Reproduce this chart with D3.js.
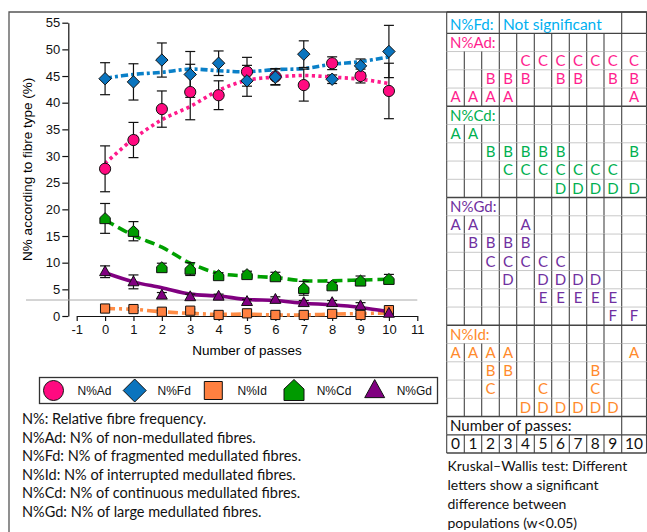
<!DOCTYPE html>
<html>
<head>
<meta charset="utf-8">
<script src="https://cdn.jsdelivr.net/npm/d3@7"></script>
<style>
  html, body { margin: 0; padding: 0; background: #fff; }
  svg { display: block; }
  .ax text { font-family: "Liberation Sans", Arial, sans-serif; font-size: 13px; fill: #111; }
  .ax path, .ax line { stroke: #111; stroke-width: 1.2; }
</style>
</head>
<body>
<svg id="fig" width="647" height="532"></svg>
<script>
// Number of passes (x positions)
const passes = [0, 1, 2, 3, 4, 5, 6, 7, 8, 9, 10];

// Mean relative fibre frequency (%) per number of passes
const adMean = [27.6, 33.0, 38.8, 42.0, 41.4, 45.8, 44.9, 43.3, 47.4, 45.0, 42.2];
const fdMean = [44.5, 43.9, 48.0, 45.3, 47.4, 44.1, 44.8, 49.1, 44.4, 46.9, 49.6];
const idMean = [1.4, 1.3, 0.8, 1.0, 0.2, 0.5, 0.2, 0.2, 0.4, 0.2, 1.1];
const cdMean = [18.3, 15.9, 9.1, 8.8, 7.6, 7.8, 7.4, 5.2, 5.7, 6.6, 6.9];
const gdMean = [8.3, 6.4, 3.9, 3.6, 3.7, 2.7, 3.1, 2.5, 2.5, 1.9, 0.5];

// Error (half-length of the error bars)
const adErr = [4.3, 3.3, 3.4, 5.2, 2.7, 2.7, 1.5, 3.0, 1.2, 1.3, 5.2];
const fdErr = [3.0, 3.4, 3.2, 4.3, 2.3, 2.9, 1.5, 2.5, 0.8, 1.3, 4.9];
const idErr = [0.3, 0.3, 0.3, 0.3, 0.2, 0.3, 0.2, 0.2, 0.3, 0.2, 0.3];
const cdErr = [2.8, 1.8, 0.8, 1.2, 0.5, 0.6, 0.8, 1.3, 0.6, 0.9, 0.9];
const gdErr = [1.1, 1.3, 0.5, 0.5, 0.4, 0.4, 0.5, 0.4, 0.4, 0.6, 0.3];

// Fitted trend curves evaluated at each number of passes
const adTrend = [28.6, 33.2, 36.8, 39.3, 42.3, 44.2, 44.8, 45.1, 44.8, 44.4, 43.6];
const fdTrend = [44.6, 45.3, 45.7, 46.3, 46.0, 45.8, 46.2, 46.4, 47.2, 47.7, 48.6];
const idTrend = [1.4, 1.25, 0.8, 0.5, 0.3, 0.35, 0.2, 0.2, 0.35, 0.45, 0.6];
const cdTrend = [18.0, 15.1, 12.9, 9.9, 8.0, 7.5, 7.2, 6.6, 6.6, 6.75, 6.9];
const gdTrend = [8.1, 6.4, 5.3, 4.1, 3.75, 3.1, 2.9, 2.4, 2.1, 1.6, 0.8];

// Reference level drawn as a thin grey line
const refLevel = 3;

// Axis ticks
const yTicks = [0, 5, 10, 15, 20, 25, 30, 35, 40, 45, 50, 55];
const xTicks = [-1, 0, 1, 2, 3, 4, 5, 6, 7, 8, 9, 10, 11];

// Legend / footnote text
const seriesNames = ["N%Ad", "N%Fd", "N%Id", "N%Cd", "N%Gd"];
const notes = [
  "N%: Relative fibre frequency.",
  "N%Ad: N% of non-medullated fibres.",
  "N%Fd: N% of fragmented medullated fibres.",
  "N%Id: N% of interrupted medullated fibres.",
  "N%Cd: N% of continuous medullated fibres.",
  "N%Gd: N% of large medullated fibres."
];

// Kruskal–Wallis letter groups per number of passes
const adLetters = ["A", "A", "AB", "AB", "BC", "C", "BC", "BC", "C", "BC", "ABC"];
const cdLetters = ["A", "A", "B", "BC", "BC", "BC", "BCD", "CD", "CD", "CD", "BD"];
const gdLetters = ["A", "AB", "BC", "BCD", "ABC", "CDE", "CDE", "DE", "DE", "EF", "F"];
const idLetters = ["A", "A", "ABC", "AB", "D", "CD", "D", "D", "BCD", "D", "A"];
const kwNote = [
  "Kruskal\u2013Wallis test: Different",
  "letters show a significant",
  "difference between",
  "populations (w<0.05)"
];

const svg = d3.select("#fig");

// ---------- chart ----------
const x = d3.scaleLinear().domain([-1, 11]).range([76.7, 417.3]);
const y = d3.scaleLinear().domain([0, 55]).range([316, 22.7]);

// panel frame
svg.append("path")
  .attr("d", "M9,532 L9,12 L447,12")
  .attr("fill", "none").attr("stroke", "#555").attr("stroke-width", 1.3);

// y axis
svg.append("g").attr("class", "ax")
  .attr("transform", "translate(68.3,0)")
  .call(d3.axisLeft(y).tickValues(yTicks).tickFormat(d => String(d))
    .tickSize(6).tickSizeOuter(0).tickPadding(2));

// x axis
svg.append("g").attr("class", "ax")
  .attr("transform", `translate(0,${y(0)})`)
  .call(d3.axisBottom(x).tickValues(xTicks).tickFormat(d => String(d))
    .tickSize(5).tickSizeOuter(0).tickPadding(4));

svg.append("text")
  .attr("x", (x(-1) + x(11)) / 2).attr("y", 355)
  .attr("text-anchor", "middle")
  .style("font-family", "Liberation Sans, Arial, sans-serif").style("font-size", "13.5px")
  .text("Number of passes");

svg.append("text")
  .attr("transform", `translate(32,${(y(0) + y(55)) / 2}) rotate(-90)`)
  .attr("text-anchor", "middle")
  .style("font-family", "Liberation Sans, Arial, sans-serif").style("font-size", "13.5px")
  .text("N% according to fibre type (%)");

// grey reference line
svg.append("line")
  .attr("x1", 26).attr("x2", x(11))
  .attr("y1", y(refLevel)).attr("y2", y(refLevel))
  .attr("stroke", "#aaa").attr("stroke-width", 1);

// marker shapes
const shapes = {
  circle: s => `M${s},0 A${s},${s} 0 1,1 ${-s},0 A${s},${s} 0 1,1 ${s},0 Z`,
  diamond: s => `M0,${-s} L${s},0 L0,${s} L${-s},0 Z`,
  square: s => `M${-s},${-s} L${s},${-s} L${s},${s} L${-s},${s} Z`,
  house: s => `M${-s},${s} L${-s},${-0.15 * s} L0,${-s * 1.1} L${s},${-0.15 * s} L${s},${s} Z`,
  triangle: s => `M0,${-s * 1.15} L${s * 1.05},${s * 0.75} L${-s * 1.05},${s * 0.75} Z`
};

const series = [
  { name: "N%Ad", mean: adMean, err: adErr, trend: adTrend, fill: "#FF0A80", line: "#FF1A8C", dash: "3.2 3.4", shape: "circle", size: 5.6, lsize: 10 },
  { name: "N%Fd", mean: fdMean, err: fdErr, trend: fdTrend, fill: "#0A74BE", line: "#0A80C8", dash: "7 3 3 3", shape: "diamond", size: 6.2, lsize: 11.5 },
  { name: "N%Id", mean: idMean, err: idErr, trend: idTrend, fill: "#FF8040", line: "#FF8C45", dash: "10 4 3 4", shape: "square", size: 4.6, lsize: 9 },
  { name: "N%Cd", mean: cdMean, err: cdErr, trend: cdTrend, fill: "#009A00", line: "#00A000", dash: "10 5", shape: "house", size: 5.2, lsize: 10 },
  { name: "N%Gd", mean: gdMean, err: gdErr, trend: gdTrend, fill: "#800080", line: "#800080", dash: null, shape: "triangle", size: 5.2, lsize: 9.5 }
];

const trendLine = d3.line().x((d, i) => x(passes[i])).y(d => y(d)).curve(d3.curveCatmullRom.alpha(0.5));

// trend curves
series.forEach(s => {
  svg.append("path")
    .attr("d", trendLine(s.trend))
    .attr("fill", "none").attr("stroke", s.line).attr("stroke-width", 3.6)
    .attr("stroke-dasharray", s.dash);
});

// error bars
series.forEach(s => {
  const g = svg.append("g").attr("stroke", "#111").attr("stroke-width", 1.2);
  passes.forEach((p, i) => {
    const cx = x(p), top = y(s.mean[i] + s.err[i]), bot = y(s.mean[i] - s.err[i]);
    g.append("line").attr("x1", cx).attr("x2", cx).attr("y1", top).attr("y2", bot);
    g.append("line").attr("x1", cx - 5).attr("x2", cx + 5).attr("y1", top).attr("y2", top);
    g.append("line").attr("x1", cx - 5).attr("x2", cx + 5).attr("y1", bot).attr("y2", bot);
  });
});

// markers
series.forEach(s => {
  svg.append("g").selectAll("path").data(s.mean).join("path")
    .attr("transform", (d, i) => `translate(${x(passes[i])},${y(d)})`)
    .attr("d", shapes[s.shape](s.size))
    .attr("fill", s.fill).attr("stroke", "#111").attr("stroke-width", 1);
});

// legend
svg.append("rect")
  .attr("x", 39.5).attr("y", 377.5).attr("width", 398).attr("height", 26)
  .attr("fill", "#fff").attr("stroke", "#333").attr("stroke-width", 1.3);
const legX = [53.5, 134.7, 213.3, 294, 374.7];
const legTextX = [77.5, 157.5, 237.5, 316.7, 396.7];
series.forEach((s, i) => {
  svg.append("path")
    .attr("transform", `translate(${legX[i]},390.5)`)
    .attr("d", shapes[s.shape](s.lsize))
    .attr("fill", s.fill).attr("stroke", "#111").attr("stroke-width", 1);
  svg.append("text")
    .attr("x", legTextX[i]).attr("y", 395)
    .style("font-family", "Liberation Sans, Arial, sans-serif").style("font-size", "12px")
    .attr("fill", "#111")
    .text(seriesNames[i]);
});

// footnotes
svg.append("g").selectAll("text").data(notes).join("text")
  .attr("x", 22).attr("y", (d, i) => 424 + i * 18.5)
  .style("font-family", "Lato, 'Open Sans', sans-serif").style("font-size", "14.5px")
  .attr("fill", "#111")
  .text(d => d);

// ---------- significance table ----------
const colEdges = [446.7, 464.3, 481.7, 499.3, 516.7, 534.3, 551.7, 569.3, 586.7, 604, 621.7, 646.5];
const colMid = i => (colEdges[i] + colEdges[i + 1]) / 2;
const rowH = 18.25;
const tableTop = 12, fdBottom = 33.3;
const tFont = "Lato, 'Open Sans', sans-serif";

const groups = [
  { title: "N%Ad:", color: "#FF1E8E", rows: ["C", "B", "A"], letters: adLetters },
  { title: "N%Cd:", color: "#00B050", rows: ["A", "B", "C", "D"], letters: cdLetters },
  { title: "N%Gd:", color: "#7030A0", rows: ["A", "B", "C", "D", "E", "F"], letters: gdLetters },
  { title: "N%Id:", color: "#FF8A2C", rows: ["A", "B", "C", "D"], letters: idLetters }
];

const tbl = svg.append("g");
const thinGrey = "#c8c8c8", dark = "#444";

function vLines(y0, y1, cols) {
  cols.forEach(c => tbl.append("line")
    .attr("x1", colEdges[c]).attr("x2", colEdges[c]).attr("y1", y0).attr("y2", y1)
    .attr("stroke", dark).attr("stroke-width", 1.1));
}
function hLine(yy, color, w) {
  tbl.append("line").attr("x1", colEdges[0]).attr("x2", colEdges[11])
    .attr("y1", yy).attr("y2", yy).attr("stroke", color).attr("stroke-width", w);
}
function cellText(txt, xx, yy, color, size, anchor) {
  tbl.append("text").attr("x", xx).attr("y", yy)
    .attr("text-anchor", anchor || "middle")
    .style("font-family", tFont).style("font-size", size + "px")
    .attr("fill", color).text(txt);
}

const allCols = d3.range(12);
const fromCol3 = [0, 3, 4, 5, 6, 7, 8, 9, 10, 11];

// N%Fd row
vLines(tableTop, fdBottom, [0, 3, 10, 11]);
cellText("N%Fd:", 450, 29.5, "#00B0F0", 15, "start");
cellText("Not significant", 503, 29.5, "#00B0F0", 15.5, "start");
hLine(tableTop, dark, 1.3);
hLine(fdBottom, dark, 1.3);

let yCur = fdBottom;
groups.forEach(g => {
  // header row
  vLines(yCur, yCur + rowH, fromCol3);
  cellText(g.title, 450, yCur + rowH - 4, g.color, 15, "start");
  yCur += rowH;
  g.rows.forEach(letter => {
    hLine(yCur, thinGrey, 1);
    vLines(yCur, yCur + rowH, allCols);
    g.letters.forEach((set, ci) => {
      if (set.includes(letter)) cellText(letter, colMid(ci), yCur + rowH - 4, g.color, 15);
    });
    yCur += rowH;
  });
  hLine(yCur, dark, 1.4);
});

// number-of-passes footer
vLines(yCur, yCur + rowH, [0, 10, 11]);
cellText("Number of passes:", 450, yCur + rowH - 4, "#111", 15, "start");
yCur += rowH;
hLine(yCur, dark, 1.2);
vLines(yCur, yCur + rowH, allCols);
passes.forEach((p, i) => cellText(String(p), colMid(i), yCur + rowH - 4, "#111", 15.5));
yCur += rowH;
hLine(yCur, dark, 1.4);

// table top border continues to the right edge
svg.append("line").attr("x1", 447).attr("x2", 647).attr("y1", 12).attr("y2", 12)
  .attr("stroke", dark).attr("stroke-width", 1.3);

svg.append("g").selectAll("text").data(kwNote).join("text")
  .attr("x", 447.5).attr("y", (d, i) => 471 + i * 19)
  .style("font-family", tFont).style("font-size", "14px")
  .attr("fill", "#111")
  .text(d => d);
</script>
</body>
</html>
